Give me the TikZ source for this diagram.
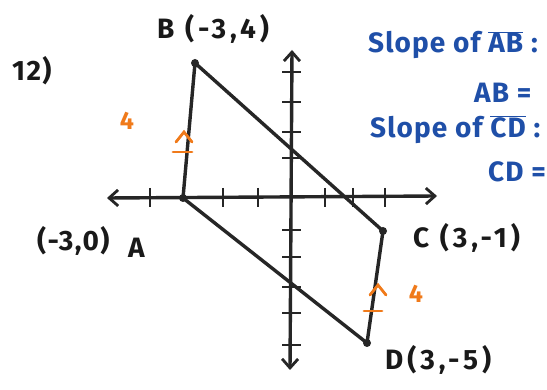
\documentclass[tikz,border=0pt]{standalone}
\usepackage{fontspec}
\setmainfont{Fira Sans}
\usetikzlibrary{arrows.meta}
\definecolor{penblue}{HTML}{1F4FA8}
\definecolor{penorange}{HTML}{F07A1A}
\tikzset{
  pen/.style={line width=3.4pt, line cap=round, line join=round, black!85},
  axis/.style={pen, {Straight Barb[length=9pt,width=16pt,line width=2.8pt]}-{Straight Barb[length=9pt,width=16pt,line width=2.8pt]}},
  tickmark/.style={line width=2.8pt, black!85},
  lbl/.style={font=\fontsize{28}{30}\selectfont\bfseries\addfontfeature{LetterSpace=5}, text=black!90, inner sep=0pt, anchor=west},
  widelbl/.style={lbl, font=\fontsize{28}{30}\selectfont\bfseries\addfontfeature{LetterSpace=14}},
  blue/.style={font=\fontsize{28}{30}\selectfont\bfseries\addfontfeature{LetterSpace=4}, text=penblue, inner sep=0pt, anchor=west},
  orng/.style={line width=2.8pt, penorange, line cap=round},
  onum/.style={font=\fontsize{25}{27}\selectfont\bfseries, text=penorange, inner sep=0pt},
  dot/.style={circle, fill=black!85, inner sep=0pt, minimum size=8pt}
}
\begin{document}
\begin{tikzpicture}[x=1pt,y=-1pt]
\useasboundingbox (0,0) rectangle (547,390);
\fill[white] (0,0) rectangle (547,390);
% axes
\coordinate (xl) at (107,198);
\coordinate (xr) at (437,196);
\coordinate (yt) at (292,50);
\coordinate (yb) at (290,370);
\draw[axis] (xl) -- (xr);
\draw[axis] (yt) -- (yb);
% ticks x
\foreach \x in {150,223,258,325,353,385}
  \draw[tickmark] (\x,188) -- (\x,207);
% ticks y
\foreach \y in {72,102,132,158,230,257,287,313,345}
  \draw[tickmark] (282,\y) -- (301,\y);
% points
\node[dot] (B) at (195,63) {};
\node[dot] (A) at (183,198) {};
\node[dot] (C) at (383,231) {};
\node[dot] (D) at (367,343) {};
\draw[pen] (A.center) -- (B.center) -- (C.center) -- (D.center) -- cycle;
% orange marks
\draw[orng] (176,142) -- (184,132) -- (192,142);
\draw[orng] (173,152) -- (192,152);
\node[onum] (n1) at (127,121) {4};
\draw[orng] (370,295) -- (378,285) -- (386,295);
\draw[orng] (364,311) -- (382,311);
\node[onum] (n2) at (416,294) {4};
% labels
\node[lbl] (q) at (12,71) {12)};
\node[widelbl] (lb) at (157,29) {B (-3,4)};
\node[lbl] (la1) at (37,241) {(-3,0)};
\node[lbl] (la2) at (128,248) {A};
\node[widelbl] (lc) at (413,238) {C (3,-1)};
\node[widelbl] (ld) at (385,360) {D(3,-5)};
% right text
\node[blue] (s1) at (368,45) {Slope of $\overline{\mbox{AB}}$ :};
\node[blue] (e1) at (474,93) {AB =};
\node[blue] (s2) at (370,130) {Slope of $\overline{\mbox{CD}}$ :};
\node[blue] (e2) at (488,172) {CD =};
\end{tikzpicture}
\end{document}
